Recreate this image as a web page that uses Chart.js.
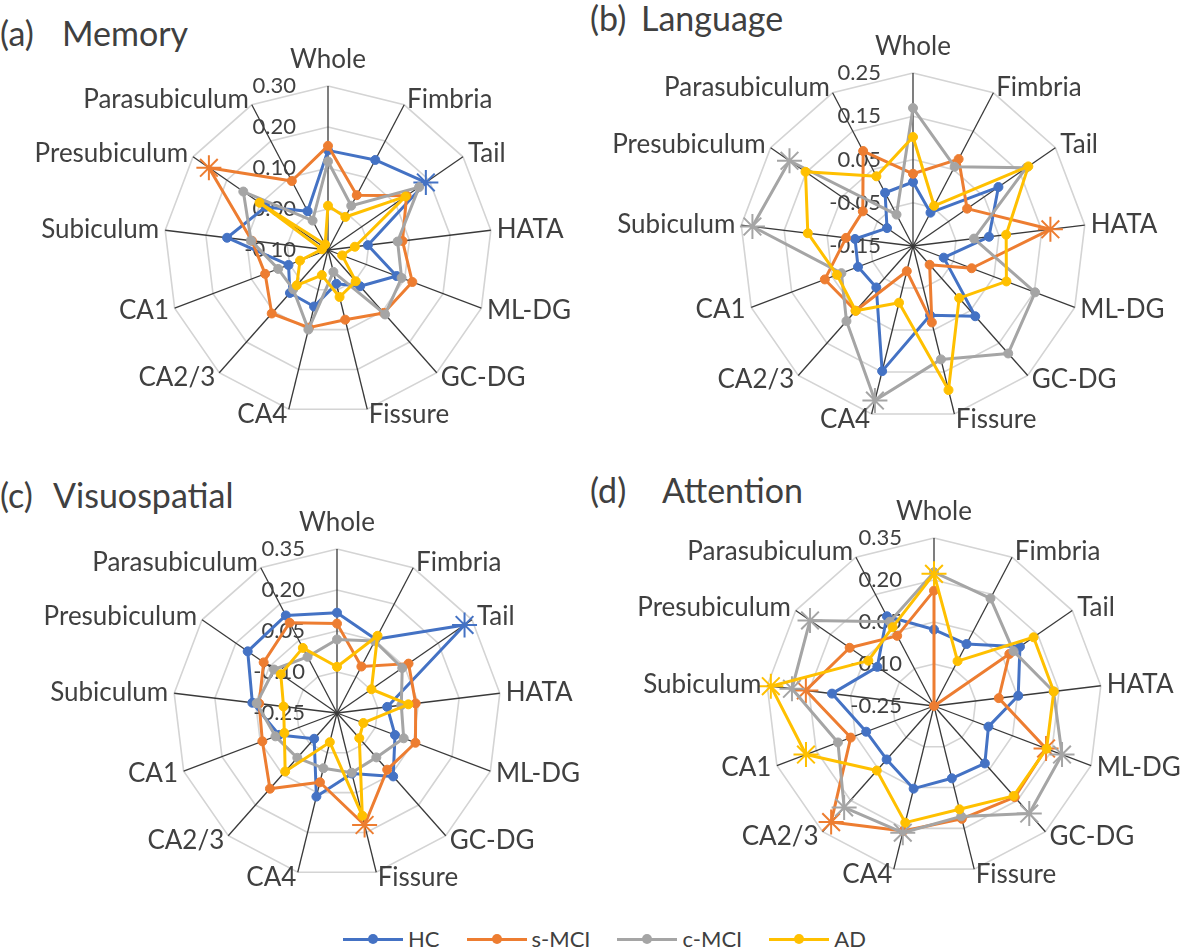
<!DOCTYPE html>
<html>
<head>
<meta charset="utf-8">
<script src="https://cdn.jsdelivr.net/npm/chart.js@4.4.1/dist/chart.umd.min.js"></script>
<style>
body { margin: 0; background: #fff; width: 1182px; height: 948px; position: relative; overflow: hidden; font-family: Lato, sans-serif; color: #404040; }
canvas { position: absolute; }
.ttl { position: absolute; font-size: 34px; line-height: 34px; color: #404040; white-space: nowrap; }
#legend { position: absolute; top: 927px; left: 343px; display: flex; gap: 27px; font-size: 22px; line-height: 24px; color: #404040; }
.item { display: flex; align-items: center; }
.swatch { position: relative; width: 60px; height: 3px; margin-right: 5px; }
.swatch i { position: absolute; left: 25px; top: -3.5px; width: 10px; height: 10px; border-radius: 50%; }
</style>
</head>
<body>
<div class="ttl" style="left:0;top:16px">(a)</div><div class="ttl" style="left:62px;top:16px">Memory</div>
<div class="ttl" style="left:590px;top:1px">(b)</div><div class="ttl" style="left:641px;top:1px">Language</div>
<div class="ttl" style="left:0;top:478px">(c)</div><div class="ttl" style="left:53px;top:478px">Visuospatial</div>
<div class="ttl" style="left:590px;top:473px">(d)</div><div class="ttl" style="left:662px;top:473px">Attention</div>
<canvas id="memory"></canvas>
<canvas id="language"></canvas>
<canvas id="visuo"></canvas>
<canvas id="attention"></canvas>
<div id="legend"></div>
<script>
const labels = ['Whole', 'Fimbria', 'Tail', 'HATA', 'ML-DG', 'GC-DG', 'Fissure', 'CA4', 'CA2/3', 'CA1', 'Subiculum', 'Presubiculum', 'Parasubiculum'];
const seriesNames = ['HC', 's-MCI', 'c-MCI', 'AD'];
const seriesColors = ['#4472C4', '#ED7D31', '#A5A5A5', '#FFC000'];

// (a) Memory
const memoryTicks = ['-0.10', '0.00', '0.10', '0.20', '0.30'];
const memoryHC   = [0.143, 0.148, 0.190, -0.002, 0.079, 0.018, -0.015, 0.042, 0.040, 0.003, 0.148, 0.085, 0.007];
const memorySMCI = [0.154, 0.051, 0.133, 0.083, 0.120, 0.105, 0.075, 0.095, 0.107, 0.064, 0.087, 0.253, 0.090];
const memoryCMCI = [0.116, 0.022, 0.170, 0.071, 0.092, 0.110, -0.045, 0.100, 0.028, 0.030, 0.089, 0.151, -0.019];
const memoryAD   = [0.008, -0.009, 0.130, -0.034, -0.063, 0.002, 0.018, -0.037, 0.015, -0.027, -0.085, 0.103, -0.085];
const memoryStars = [[2], [11], [], []];

// (b) Language
const languageTicks = ['-0.15', '-0.05', '0.05', '0.15', '0.25'];
const languageHC   = [-0.002, -0.063, 0.090, 0.027, -0.074, 0.067, 0.015, 0.148, -0.022, -0.014, -0.015, -0.077, -0.011];
const languageSMCI = [0.017, 0.077, 0.002, 0.170, -0.005, -0.092, 0.032, -0.090, 0.050, 0.068, 0.006, -0.009, 0.098];
const languageCMCI = [0.169, 0.057, 0.168, -0.008, 0.152, 0.182, 0.120, 0.218, 0.082, 0.027, 0.224, 0.197, -0.068];
const languageAD   = [0.102, -0.045, 0.174, 0.067, 0.081, 0.011, 0.193, -0.015, 0.050, 0.038, 0.095, 0.152, 0.032];
const languageStars = [[], [3], [7, 10, 11], []];

// (c) Visuospatial
const visuoTicks = ['-0.25', '-0.10', '0.05', '0.20', '0.35'];
const visuoHC   = [0.117, 0.055, 0.317, -0.065, -0.023, 0.060, -0.022, 0.065, -0.124, -0.024, 0.062, 0.147, 0.153];
const visuoSMCI = [0.077, -0.058, 0.068, 0.040, 0.057, 0.027, 0.172, 0.011, 0.120, 0.042, 0.037, 0.076, 0.123];
const visuoCMCI = [0.019, 0.047, 0.040, -0.013, 0.011, -0.033, -0.025, -0.042, -0.031, -0.009, 0.046, 0.030, -0.018];
const visuoAD   = [-0.081, 0.069, -0.097, 0.013, -0.147, -0.127, 0.137, -0.140, 0.036, -0.044, -0.053, 0.000, 0.019];
const visuoStars = [[2], [6], [], []];

// (d) Attention
const attentionTicks = ['-0.25', '-0.10', '0.05', '0.20', '0.35'];
const attentionHC   = [0.023, 0.000, 0.123, 0.053, -0.042, 0.024, 0.016, 0.054, 0.005, 0.009, 0.117, -0.004, 0.112];
const attentionSMCI = [0.162, -0.250, 0.077, -0.017, 0.178, 0.185, 0.165, 0.210, 0.304, 0.068, 0.211, 0.116, 0.033];
const attentionCMCI = [0.228, 0.184, 0.095, 0.180, 0.239, 0.263, 0.156, 0.216, 0.234, 0.117, 0.261, 0.288, 0.090];
const attentionAD   = [0.222, -0.069, 0.182, 0.181, 0.180, 0.179, 0.130, 0.179, 0.058, 0.239, 0.337, 0.035, 0.068];
const attentionStars = [[], [4, 8, 10], [4, 5, 7, 8, 10, 11], [0, 9, 10]];

// canvas boxes on the page, plot centre and radius
const boxes = {
    memory:    { x: 0,   y: 40,  w: 590, h: 430, cx: 328, cy: 250, r: 164 },
    language:  { x: 590, y: 30,  w: 592, h: 440, cx: 913, cy: 246, r: 173 },
    visuo:     { x: 0,   y: 500, w: 590, h: 400, cx: 337, cy: 713, r: 164 },
    attention: { x: 590, y: 500, w: 592, h: 400, cx: 934, cy: 706, r: 168 }
};

function axisText(tickLabels) {
    return {
        id: 'axisText',
        beforeDatasetsDraw(chart) {
            const r = chart.scales.r;
            const ctx = chart.ctx;
            ctx.save();
            ctx.font = '22px Lato';
            ctx.fillStyle = '#404040';
            ctx.textAlign = 'right';
            ctx.textBaseline = 'middle';
            tickLabels.forEach(t => {
                const d = r.getDistanceFromCenterForValue(parseFloat(t));
                ctx.fillText(t, r.xCenter - 32, r.yCenter - d);
            });
            ctx.restore();
        },
        afterDraw(chart) {
            const r = chart.scales.r;
            const ctx = chart.ctx;
            ctx.save();
            ctx.font = '26px Lato';
            ctx.fillStyle = '#404040';
            chart.data.labels.forEach((lab, i) => {
                const s = Math.sin(r.getIndexAngle(i));
                ctx.textAlign = s > 0.05 ? 'left' : (s < -0.05 ? 'right' : 'center');
                if (i === 0) {
                    ctx.textBaseline = 'alphabetic';
                    ctx.fillText(lab, r.xCenter, r.yCenter - r.drawingArea - 18);
                } else {
                    const p = r.getPointPosition(i, r.drawingArea + 6);
                    ctx.textBaseline = 'middle';
                    ctx.fillText(lab, p.x, p.y);
                }
            });
            ctx.restore();
        }
    };
}

function radar(id, series, tickLabels, stars) {
    const box = boxes[id];
    const canvas = document.getElementById(id);
    canvas.width = box.w;
    canvas.height = box.h;
    canvas.style.left = box.x + 'px';
    canvas.style.top = box.y + 'px';
    const cx = box.cx - box.x, cy = box.cy - box.y, R = box.r;
    const min = parseFloat(tickLabels[0]);
    const max = parseFloat(tickLabels[tickLabels.length - 1]);
    const step = Math.round((parseFloat(tickLabels[1]) - min) * 1000) / 1000;
    const isStar = (k, i) => stars[k].includes(i);
    return new Chart(canvas, {
        type: 'radar',
        data: {
            labels: labels,
            datasets: series.map((vals, k) => ({
                label: seriesNames[k],
                data: vals,
                order: 3 - k,
                fill: false,
                borderColor: seriesColors[k],
                backgroundColor: seriesColors[k],
                borderWidth: 3,
                borderJoinStyle: 'round',
                pointStyle: c => isStar(k, c.dataIndex) ? 'star' : 'circle',
                pointRadius: c => isStar(k, c.dataIndex) ? 12.5 : 4.5,
                pointBorderWidth: c => isStar(k, c.dataIndex) ? 2 : 1,
                pointBackgroundColor: seriesColors[k],
                pointBorderColor: seriesColors[k]
            }))
        },
        options: {
            responsive: false,
            animation: false,
            devicePixelRatio: 1,
            layout: { padding: { left: cx - R, top: cy - R, right: box.w - cx - R, bottom: box.h - cy - R } },
            plugins: { legend: { display: false }, tooltip: { enabled: false } },
            scales: {
                r: {
                    min: min,
                    max: max,
                    ticks: { display: false, stepSize: step },
                    pointLabels: { display: false },
                    grid: { color: '#d4d4d4', lineWidth: 1.6 },
                    angleLines: { color: '#3a3a3a', lineWidth: 1.3 }
                }
            }
        },
        plugins: [axisText(tickLabels)]
    });
}

radar('memory', [memoryHC, memorySMCI, memoryCMCI, memoryAD], memoryTicks, memoryStars);
radar('language', [languageHC, languageSMCI, languageCMCI, languageAD], languageTicks, languageStars);
radar('visuo', [visuoHC, visuoSMCI, visuoCMCI, visuoAD], visuoTicks, visuoStars);
radar('attention', [attentionHC, attentionSMCI, attentionCMCI, attentionAD], attentionTicks, attentionStars);

// shared legend
const legend = document.getElementById('legend');
seriesNames.forEach((name, k) => {
    const item = document.createElement('div');
    item.className = 'item';
    item.innerHTML = '<span class="swatch" style="background:' + seriesColors[k] + '"><i style="background:' + seriesColors[k] + '"></i></span>' + name;
    legend.appendChild(item);
});
</script>
</body>
</html>
